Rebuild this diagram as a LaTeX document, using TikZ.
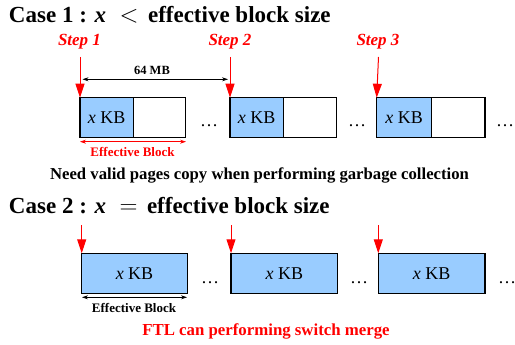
\documentclass[tikz,border=0pt]{standalone}
\usepackage{fontspec}
\setmainfont{Liberation Serif}
\usetikzlibrary{arrows.meta}
\definecolor{blockblue}{HTML}{99CCFF}
\definecolor{stepred}{HTML}{FF0000}
\tikzset{
  every node/.style={inner sep=0pt, outer sep=0pt},
  cell/.style={draw=black, line width=1.5pt, minimum height=40pt, font=\fontsize{18}{18}\selectfont},
  filled/.style={cell, fill=blockblue},
  empty/.style={cell, fill=white},
  title/.style={font=\fontsize{23}{23}\selectfont\bfseries, anchor=base west},
  steplabel/.style={font=\fontsize{17}{17}\selectfont\bfseries\itshape, text=stepred, anchor=base},
  pointer/.style={draw=stepred, line width=1pt, -{Triangle[length=14pt,width=9pt]}},
  span/.style={line width=0.6pt, {Stealth[length=6pt,width=4pt]}-{Stealth[length=6pt,width=4pt]}},
  dots/.style={font=\fontsize{18}{18}\selectfont, anchor=base},
  caption/.style={font=\fontsize{16.7}{17}\selectfont\bfseries, anchor=base},
  spanlabel/.style={font=\fontsize{13}{13}\selectfont\bfseries, anchor=base},
}
\newcommand{\xkb}{\textit{x} KB}
\begin{document}
\begin{tikzpicture}[x=1pt, y=-1pt]
\useasboundingbox (0,0) rectangle (515,345);

% ---------- Case 1 ----------
\node[title] (t1) at (9,22.7) {Case 1 : \textit{x}\,\, $<$ \,effective block size};

% blocks: blue part holds x KB, white part is the rest of the block
\node[filled, minimum width=53.3pt, anchor=north west] (a1) at (80,97.7) {\xkb};
\node[empty, minimum width=52.4pt, anchor=north west] (b1) at (a1.north east) {};
\node[filled, minimum width=53.3pt, anchor=north west] (a2) at (230,97.7) {\xkb};
\node[empty, minimum width=53.4pt, anchor=north west] (b2) at (a2.north east) {};
\node[filled, minimum width=55pt, anchor=north west] (a3) at (376.7,97.7) {\xkb};
\node[empty, minimum width=53.3pt, anchor=north west] (b3) at (a3.north east) {};

\node[dots] (d1) at (209,127) {\dots};
\node[dots] (d2) at (357,127) {\dots};
\node[dots] (d3) at (505,127) {\dots};

% step pointers
\node[steplabel] (s1) at (79.5,46) {Step 1};
\node[steplabel] (s2) at (230,46) {Step 2};
\node[steplabel] (s3) at (378,46) {Step 3};
\coordinate (p1) at (80,57);
\coordinate (p2) at (230,57);
\coordinate (p3) at (378.5,57);
\draw[pointer] (p1) -- (a1.north west);
\draw[pointer] (p2) -- (a2.north west);
\draw[pointer] (p3) -- (a3.north west);

% distance between steps
\coordinate (m1) at (82.5,79.3);
\coordinate (m2) at (228,79.3);
\draw[span] (m1) -- (m2);
\node[font=\fontsize{12.5}{13}\selectfont\bfseries, anchor=base] (mb) at (152,75) {64 MB};

% effective block span
\coordinate (e1) at (80,141.7);
\coordinate (e2) at (186,141.7);
\draw[span, draw=stepred, fill=stepred] (e1) -- (e2);
\node[spanlabel, text=stepred] (eb1) at (132.5,157) {Effective Block};

\node[caption] (c1) at (259.5,179.3) {Need valid pages copy when performing garbage collection};

% ---------- Case 2 ----------
\node[title] (t2) at (9,213.3) {Case 2 : \textit{x}\,\, $=$ \,effective block size};

\node[filled, minimum width=105.6pt, anchor=north west] (f1) at (81.7,253.3) {\xkb};
\node[filled, minimum width=106.7pt, anchor=north west] (f2) at (231,253.3) {\xkb};
\node[filled, minimum width=106.7pt, anchor=north west] (f3) at (378.3,253.3) {\xkb};

\node[dots] (g1) at (210,283) {\dots};
\node[dots] (g2) at (359,283) {\dots};
\node[dots] (g3) at (507,283) {\dots};

\coordinate (q1) at (81.7,225);
\coordinate (q2) at (231,225);
\coordinate (q3) at (378.3,225);
\draw[pointer] (q1) -- (f1.north west);
\draw[pointer] (q2) -- (f2.north west);
\draw[pointer] (q3) -- (f3.north west);

\coordinate (h1) at (82,297.3);
\coordinate (h2) at (187,297.3);
\draw[span] (h1) -- (h2);
\node[spanlabel] (eb2) at (134,312.3) {Effective Block};

\node[caption, font=\fontsize{16.8}{17}\selectfont\bfseries, text=stepred] (c2) at (266,335.7) {FTL can performing switch merge};
\end{tikzpicture}
\end{document}
